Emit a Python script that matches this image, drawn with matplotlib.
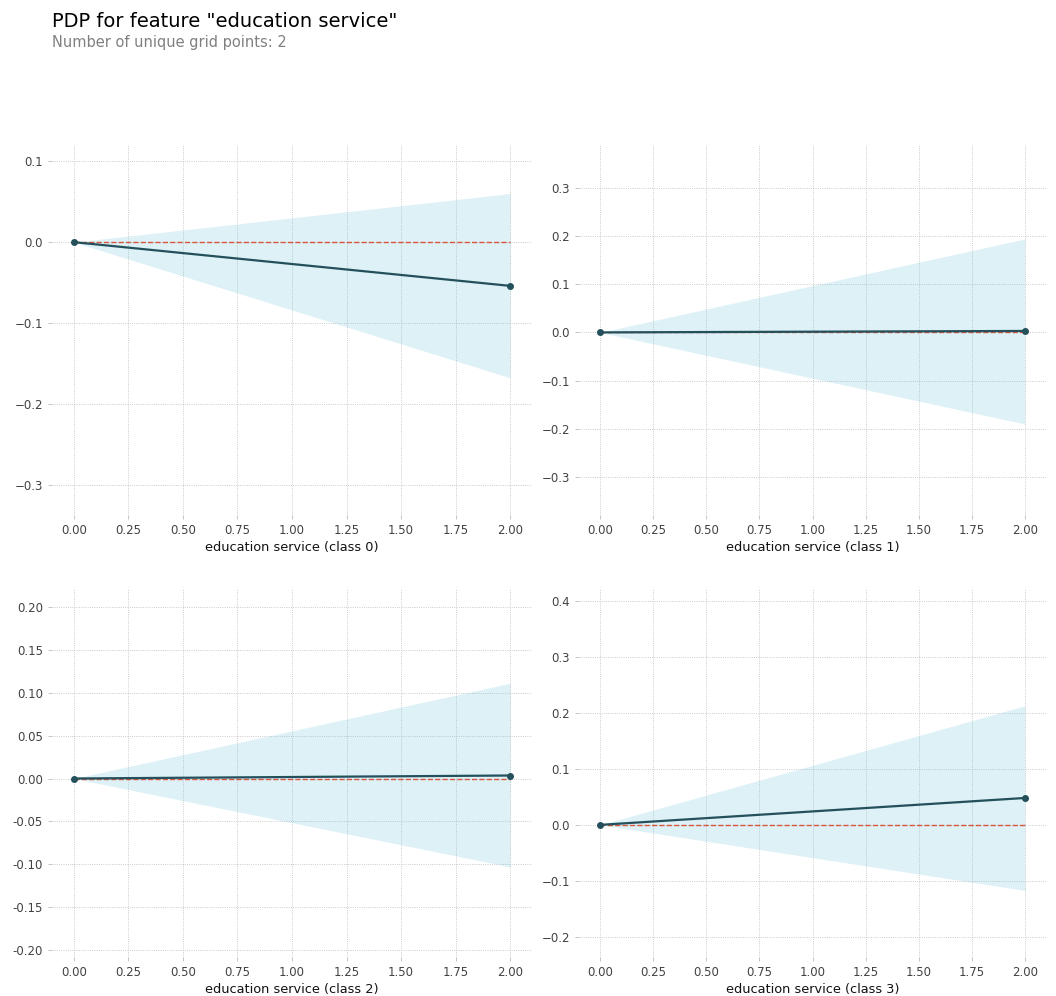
import matplotlib
matplotlib.use('Agg')
import matplotlib.pyplot as plt
import numpy as np

# data
grid = [0.0, 2.0]
classes = ['class 0', 'class 1', 'class 2', 'class 3']
pdp_vals = [[0.0, -0.054], [0.0, 0.003], [0.0, 0.0035], [0.0, 0.048]]
upper_vals = [[0.0, 0.060], [0.0, 0.194], [0.0, 0.111], [0.0, 0.2125]]
lower_vals = [[0.0, -0.1675], [0.0, -0.190], [0.0, -0.103], [0.0, -0.117]]
y_limits = [(-0.337, 0.12), (-0.379, 0.389), (-0.208, 0.222), (-0.236, 0.423)]
feature = 'education service'

W, H = 1056, 996
fig = plt.figure(figsize=(W / 100, H / 100), dpi=100)

fig.text(52 / W, 1 - 27 / H, 'PDP for feature "%s"' % feature,
         fontsize=14, color='black', va='baseline')
fig.text(52 / W, 1 - 47 / H, 'Number of unique grid points: %d' % len(grid),
         fontsize=10.5, color='grey', va='baseline')

# axes boxes in pixels: left, top, right, bottom
boxes = [(52, 145, 532, 515), (579, 145, 1046, 515),
         (52, 588, 532, 957), (579, 588, 1046, 957)]

for i, cls in enumerate(classes):
    l, t, r, b = boxes[i]
    ax = fig.add_axes([l / W, 1 - b / H, (r - l) / W, (b - t) / H])
    ax.fill_between(grid, upper_vals[i], lower_vals[i], color='#66C2D7', alpha=0.22, linewidth=0)
    ax.plot(grid, [0] * len(grid), linestyle='--', linewidth=1, color='#D9553F')
    ax.plot(grid, pdp_vals[i], color='#24505C', linewidth=1.6, marker='o', markersize=4)
    ax.set_ylim(*y_limits[i])
    ax.set_xticks(np.arange(0, 2.01, 0.25))
    ax.set_xlabel('%s (%s)' % (feature, cls), fontsize=9.3, color='#111111', labelpad=3)
    for s in ax.spines.values():
        s.set_visible(False)
    ax.grid(True, linestyle=':', linewidth=0.6, color='#aaaaaa', alpha=0.8)
    ax.set_axisbelow(True)
    ax.tick_params(labelsize=8.5, labelcolor='#424242', color='#bbbbbb', length=3, width=0.6)
    if i == 2:
        ax.yaxis.set_major_formatter(matplotlib.ticker.FormatStrFormatter('%.2f'))

fig.savefig('out.png', dpi=100)
